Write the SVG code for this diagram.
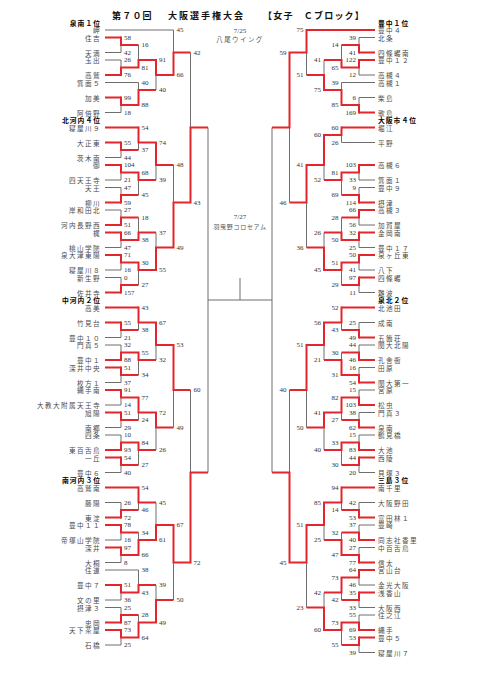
<svg xmlns="http://www.w3.org/2000/svg" width="481" height="680" viewBox="0 0 481 680">
<style>
.g{fill:none;stroke:#6e6e6e;stroke-width:1}
.r{fill:none;stroke:#e3262d;stroke-width:2;stroke-linejoin:miter}
.tl,.tr{font-family:"Noto Sans CJK JP",sans-serif;font-size:6.6px;fill:#4a4a4a;letter-spacing:1.4px;dominant-baseline:central}
.tl{text-anchor:end}
.hl,.hr{font-family:"Noto Sans CJK JP",sans-serif;font-size:6.8px;font-weight:bold;fill:#000;letter-spacing:1px;dominant-baseline:central}
.hl{text-anchor:end}
.nl,.nr{font-family:"Liberation Serif",serif;font-size:7px;fill:#333;dominant-baseline:central}
.nr{text-anchor:end}
.ti{font-family:"Noto Sans CJK JP",sans-serif;font-size:9px;font-weight:bold;fill:#111;dominant-baseline:central}
.dt{font-family:"Liberation Serif",serif;font-size:7px;fill:#444;text-anchor:middle;dominant-baseline:central}
.pl{font-family:"Noto Sans CJK JP",sans-serif;fill:#555;text-anchor:middle;dominant-baseline:central}
</style>
<g id="title">
<text class="ti" x="112" y="15" style="letter-spacing:1.2px">第７０回</text>
<text class="ti" x="168" y="15" style="letter-spacing:2px">大阪選手権大会</text>
<text class="ti" x="263" y="15" style="letter-spacing:1.2px">【女子　Ｃブロック】</text>
<text class="dt" x="240" y="30.5">7/25</text>
<text class="pl" x="240" y="38.5" style="font-size:6.5px;letter-spacing:1.4px">八尾ウイング</text>
<text class="dt" x="240" y="217">7/27</text>
<text class="pl" x="240" y="226" style="font-size:6px;letter-spacing:0.7px">羽曳野コロセアム</text>
</g>
<g id="connectors">
<path class="g" d="M105 30H173.5M105 52.5H121M105 60H121M105 82.5H138.5M105 112.5H121M105 157.5H121M105 180H121M105 187.5H121M105 210H121M105 247.5H121M105 270H121M105 277.5H121M105 337.5H121M105 345H121M105 382.5H121M105 405H121M105 427.5H121M105 435H121M105 472.5H121M105 502.5H121M105 540H121M105 562.5H121M105 570H138.5M105 600H121M105 607.5H121M105 645H121"/>
<path class="g" d="M121 37.5V52.5M121 60V75M121 97.5V112.5M121 142.5V157.5M121 165V180M121 187.5V202.5M121 210V225M121 232.5V247.5M121 255V270M121 277.5V292.5M121 322.5V337.5M121 345V360M121 367.5V382.5M121 390V405M121 412.5V427.5M121 435V450M121 457.5V472.5M121 502.5V517.5M121 525V540M121 547.5V562.5M121 585V600M121 607.5V622.5M121 630V645M138.5 45V67.5M138.5 82.5V105M138.5 127.5V150M138.5 172.5V195M138.5 217.5V240M138.5 262.5V285M138.5 307.5V330M138.5 352.5V375M138.5 397.5V420M138.5 442.5V465M138.5 487.5V510M138.5 532.5V555M138.5 570V592.5M138.5 615V637.5M156 60V90M156 142.5V180M156 232.5V270M156 322.5V360M156 412.5V450M156 502.5V540M156 585V622.5M173.5 30V75M173.5 165V247.5M173.5 345V427.5M173.5 525V600M190.5 52.5V202.5M190.5 390V562.5M208 127.5V472.5"/>
<path class="g" d="M375 37.5H359M375 75H359M375 82.5H341.5M375 97.5H359M375 142.5H341.5M375 180H359M375 187.5H359M375 225H359M375 247.5H359M375 270H359M375 292.5H359M375 322.5H359M375 345H359M375 367.5H359M375 390H359M375 412.5H359M375 435H359M375 472.5H359M375 502.5H359M375 525H359M375 547.5H359M375 585H359M375 607.5H359M375 615H359M375 652.5H359"/>
<path class="g" d="M359 37.5V52.5M359 60V75M359 97.5V112.5M359 165V180M359 187.5V202.5M359 210V225M359 232.5V247.5M359 255V270M359 277.5V292.5M359 322.5V337.5M359 345V360M359 367.5V382.5M359 390V405M359 412.5V427.5M359 435V450M359 457.5V472.5M359 502.5V517.5M359 525V540M359 547.5V562.5M359 570V585M359 592.5V607.5M359 615V630M359 637.5V652.5M341.5 45V67.5M341.5 82.5V105M341.5 127.5V142.5M341.5 172.5V195M341.5 217.5V240M341.5 262.5V285M341.5 307.5V330M341.5 352.5V375M341.5 397.5V420M341.5 442.5V465M341.5 487.5V510M341.5 532.5V555M341.5 577.5V600M341.5 622.5V645M324 60V90M324 135V180M324 232.5V270M324 322.5V360M324 412.5V450M324 502.5V540M324 592.5V630M306.5 30V75M306.5 165V247.5M306.5 345V427.5M306.5 525V607.5M289.5 52.5V202.5M289.5 390V562.5M272 127.5V472.5"/>
<path class="g" d="M208 300H272M240 278V300"/>
<path class="r" d="M105 37.5H121M105 75H121M105 97.5H121M105 127.5H138.5M105 142.5H121M105 165H121M105 202.5H121M105 225H121M105 232.5H121M105 255H121M105 292.5H121M105 307.5H138.5M105 322.5H121M105 360H121M105 367.5H121M105 390H121M105 412.5H121M105 450H121M105 457.5H121M105 487.5H138.5M105 517.5H121M105 525H121M105 547.5H121M105 585H121M105 622.5H121M105 630H121"/>
<path class="r" d="M121 36.5V45H138.5M121 76V67.5H138.5M121 96.5V105H138.5M138.5 68.5V60H156M138.5 106V90H156M156 59V75H173.5M173.5 76V52.5H190.5M121 141.5V150H138.5M121 164V172.5H138.5M121 203.5V195H138.5M121 226V217.5H138.5M121 231.5V240H138.5M121 254V262.5H138.5M121 293.5V285H138.5M138.5 126.5V142.5H156M138.5 171.5V180H156M138.5 241V232.5H156M138.5 261.5V270H156M156 141.5V165H173.5M156 271V247.5H173.5M173.5 248.5V202.5H190.5M190.5 203.5V127.5H208"/>
<path class="r" d="M121 321.5V330H138.5M121 361V352.5H138.5M121 366.5V375H138.5M121 389V397.5H138.5M121 411.5V420H138.5M121 451V442.5H138.5M121 456.5V465H138.5M138.5 306.5V322.5H156M138.5 351.5V360H156M138.5 396.5V412.5H156M138.5 441.5V450H156M156 321.5V345H173.5M156 411.5V427.5H173.5M173.5 344V390H190.5"/>
<path class="r" d="M121 518.5V510H138.5M121 524V532.5H138.5M121 546.5V555H138.5M121 584V592.5H138.5M121 623.5V615H138.5M121 629V637.5H138.5M138.5 486.5V502.5H156M138.5 556V540H156M138.5 593.5V585H156M138.5 638.5V622.5H156M156 541V525H173.5M156 623.5V600H173.5M173.5 524V562.5H190.5M190.5 563.5V472.5H208"/>
<path class="r" d="M375 30H306.5M375 52.5H359M375 60H359M375 112.5H359M375 127.5H341.5M375 165H359M375 202.5H359M375 210H359M375 232.5H359M375 255H359M375 277.5H359M375 307.5H341.5M375 337.5H359M375 360H359M375 382.5H359M375 405H359M375 427.5H359M375 450H359M375 457.5H359M375 487.5H341.5M375 517.5H359M375 540H359M375 562.5H359M375 570H359M375 592.5H359M375 630H359M375 637.5H359"/>
<path class="r" d="M359 53.5V45H341.5M359 59V67.5H341.5M359 113.5V105H341.5M341.5 68.5V60H324M341.5 106V90H324M324 91V75H306.5M306.5 29V52.5H289.5M341.5 126.5V135H324M359 164V172.5H341.5M359 203.5V195H341.5M341.5 171.5V180H324M324 134V165H306.5M359 209V217.5H341.5M359 231.5V240H341.5M341.5 241V232.5H324M359 254V262.5H341.5M359 276.5V285H341.5M341.5 261.5V270H324M324 271V247.5H306.5M306.5 164V202.5H289.5M289.5 51.5V127.5H272"/>
<path class="r" d="M359 338.5V330H341.5M341.5 306.5V322.5H324M359 361V352.5H341.5M359 383.5V375H341.5M341.5 376V360H324M324 321.5V345H306.5M359 406V397.5H341.5M359 428.5V420H341.5M341.5 396.5V412.5H324M359 451V442.5H341.5M359 456.5V465H341.5M341.5 441.5V450H324M324 411.5V427.5H306.5M306.5 344V390H289.5"/>
<path class="r" d="M359 518.5V510H341.5M341.5 486.5V502.5H324M359 541V532.5H341.5M359 563.5V555H341.5M341.5 556V540H324M324 501.5V525H306.5M359 569V577.5H341.5M359 591.5V600H341.5M341.5 576.5V592.5H324M359 631V622.5H341.5M359 636.5V645H341.5M341.5 621.5V630H324M324 631V607.5H306.5M306.5 524V562.5H289.5M289.5 563.5V472.5H272"/>
</g>
<g id="headers">
<text class="hl" x="101" y="22.5">泉南１位</text>
<text class="hl" x="101" y="120">北河内４位</text>
<text class="hl" x="101" y="300">中河内２位</text>
<text class="hl" x="101" y="480">南河内３位</text>
<text class="hr" x="378" y="22.5">豊中１位</text>
<text class="hr" x="378" y="120">大阪市４位</text>
<text class="hr" x="378" y="300">泉北２位</text>
<text class="hr" x="378" y="480">三島３位</text>
</g>
<g id="left-teams">
<g id="L00"><text class="tl" x="101" y="30">岬</text></g>
<g id="L01"><text class="tl" x="101" y="37.5">住吉</text></g>
<g id="L03"><text class="tl" x="101" y="52.5">天満</text></g>
<g id="L04"><text class="tl" x="101" y="60">玉出</text></g>
<g id="L06"><text class="tl" x="101" y="75">高鷲</text></g>
<g id="L07"><text class="tl" x="101" y="82.5">箕面５</text></g>
<g id="L09"><text class="tl" x="101" y="97.5">加美</text></g>
<g id="L11"><text class="tl" x="101" y="112.5">阿倍野</text></g>
<g id="L13"><text class="tl" x="101" y="127.5">寝屋川９</text></g>
<g id="L15"><text class="tl" x="101" y="142.5">大正東</text></g>
<g id="L17"><text class="tl" x="101" y="157.5">茨木南</text></g>
<g id="L18"><text class="tl" x="101" y="165">御</text></g>
<g id="L20"><text class="tl" x="101" y="180">四天王寺</text></g>
<g id="L21"><text class="tl" x="101" y="187.5">天王</text></g>
<g id="L23"><text class="tl" x="101" y="202.5">柳川</text></g>
<g id="L24"><text class="tl" x="101" y="210">岸和田北</text></g>
<g id="L26"><text class="tl" x="101" y="225">河内長野西</text></g>
<g id="L27"><text class="tl" x="101" y="232.5">梶</text></g>
<g id="L29"><text class="tl" x="101" y="247.5">桃山学院</text></g>
<g id="L30"><text class="tl" x="101" y="255">泉大津東陽</text></g>
<g id="L32"><text class="tl" x="101" y="270">寝屋川８</text></g>
<g id="L33"><text class="tl" x="101" y="277.5">新生野</text></g>
<g id="L35"><text class="tl" x="101" y="292.5">佐井寺</text></g>
<g id="L37"><text class="tl" x="101" y="307.5">高美</text></g>
<g id="L39"><text class="tl" x="101" y="322.5">竹見台</text></g>
<g id="L41"><text class="tl" x="101" y="337.5">豊中１０</text></g>
<g id="L42"><text class="tl" x="101" y="345">門真５</text></g>
<g id="L44"><text class="tl" x="101" y="360">豊中１</text></g>
<g id="L45"><text class="tl" x="101" y="367.5">深井中央</text></g>
<g id="L47"><text class="tl" x="101" y="382.5">枚方１</text></g>
<g id="L48"><text class="tl" x="101" y="390">縄手南</text></g>
<g id="L50"><text class="tl" x="101" y="405">大教大附属天王寺</text></g>
<g id="L51"><text class="tl" x="101" y="412.5">旭陽</text></g>
<g id="L53"><text class="tl" x="101" y="427.5">南郷</text></g>
<g id="L54"><text class="tl" x="101" y="435">四条</text></g>
<g id="L56"><text class="tl" x="101" y="450">東百舌鳥</text></g>
<g id="L57"><text class="tl" x="101" y="457.5">一丘</text></g>
<g id="L59"><text class="tl" x="101" y="472.5">豊中６</text></g>
<g id="L61"><text class="tl" x="101" y="487.5">高鷲南</text></g>
<g id="L63"><text class="tl" x="101" y="502.5">藤陽</text></g>
<g id="L65"><text class="tl" x="101" y="517.5">東淀</text></g>
<g id="L66"><text class="tl" x="101" y="525">豊中１１</text></g>
<g id="L68"><text class="tl" x="101" y="540">帝塚山学院</text></g>
<g id="L69"><text class="tl" x="101" y="547.5">深井</text></g>
<g id="L71"><text class="tl" x="101" y="562.5">大桐</text></g>
<g id="L72"><text class="tl" x="101" y="570">住道</text></g>
<g id="L74"><text class="tl" x="101" y="585">豊中７</text></g>
<g id="L76"><text class="tl" x="101" y="600">文の里</text></g>
<g id="L77"><text class="tl" x="101" y="607.5">摂津３</text></g>
<g id="L79"><text class="tl" x="101" y="622.5">忠岡</text></g>
<g id="L80"><text class="tl" x="101" y="630">天下茶屋</text></g>
<g id="L82"><text class="tl" x="101" y="645">石橋</text></g>
</g>
<g id="right-teams">
<g id="R00"><text class="tr" x="378" y="30">豊中４</text></g>
<g id="R01"><text class="tr" x="378" y="37.5">北条</text></g>
<g id="R03"><text class="tr" x="378" y="52.5">四條畷南</text></g>
<g id="R04"><text class="tr" x="378" y="60">豊中１２</text></g>
<g id="R06"><text class="tr" x="378" y="75">高槻４</text></g>
<g id="R07"><text class="tr" x="378" y="82.5">高槻１</text></g>
<g id="R09"><text class="tr" x="378" y="97.5">柴島</text></g>
<g id="R11"><text class="tr" x="378" y="112.5">歌島</text></g>
<g id="R13"><text class="tr" x="378" y="127.5">堀江</text></g>
<g id="R15"><text class="tr" x="378" y="142.5">平野</text></g>
<g id="R18"><text class="tr" x="378" y="165">高槻６</text></g>
<g id="R20"><text class="tr" x="378" y="180">箕面１</text></g>
<g id="R21"><text class="tr" x="378" y="187.5">豊中９</text></g>
<g id="R23"><text class="tr" x="378" y="202.5">摂津</text></g>
<g id="R24"><text class="tr" x="378" y="210">高槻３</text></g>
<g id="R26"><text class="tr" x="378" y="225">加賀屋</text></g>
<g id="R27"><text class="tr" x="378" y="232.5">金岡南</text></g>
<g id="R29"><text class="tr" x="378" y="247.5">豊中１７</text></g>
<g id="R30"><text class="tr" x="378" y="255">泉ヶ丘東</text></g>
<g id="R32"><text class="tr" x="378" y="270">八下</text></g>
<g id="R33"><text class="tr" x="378" y="277.5">四條畷</text></g>
<g id="R35"><text class="tr" x="378" y="292.5">難波</text></g>
<g id="R37"><text class="tr" x="378" y="307.5">北池田</text></g>
<g id="R39"><text class="tr" x="378" y="322.5">成南</text></g>
<g id="R41"><text class="tr" x="378" y="337.5">五箇荘</text></g>
<g id="R42"><text class="tr" x="378" y="345">関大北陽</text></g>
<g id="R44"><text class="tr" x="378" y="360">孔舎衙</text></g>
<g id="R45"><text class="tr" x="378" y="367.5">田原</text></g>
<g id="R47"><text class="tr" x="378" y="382.5">関大第一</text></g>
<g id="R48"><text class="tr" x="378" y="390">宮原</text></g>
<g id="R50"><text class="tr" x="378" y="405">松虫</text></g>
<g id="R51"><text class="tr" x="378" y="412.5">門真３</text></g>
<g id="R53"><text class="tr" x="378" y="427.5">泉南</text></g>
<g id="R54"><text class="tr" x="378" y="435">鶴見橋</text></g>
<g id="R56"><text class="tr" x="378" y="450">大池</text></g>
<g id="R57"><text class="tr" x="378" y="457.5">西陵</text></g>
<g id="R59"><text class="tr" x="378" y="472.5">貝塚３</text></g>
<g id="R61"><text class="tr" x="378" y="487.5">南千里</text></g>
<g id="R63"><text class="tr" x="378" y="502.5">大阪野田</text></g>
<g id="R65"><text class="tr" x="378" y="517.5">富田林１</text></g>
<g id="R66"><text class="tr" x="378" y="525">豊崎</text></g>
<g id="R68"><text class="tr" x="378" y="540">同志社香里</text></g>
<g id="R69"><text class="tr" x="378" y="547.5">中百舌鳥</text></g>
<g id="R71"><text class="tr" x="378" y="562.5">信太</text></g>
<g id="R72"><text class="tr" x="378" y="570">宮山台</text></g>
<g id="R74"><text class="tr" x="378" y="585">金光大阪</text></g>
<g id="R75"><text class="tr" x="378" y="592.5">浅香山</text></g>
<g id="R77"><text class="tr" x="378" y="607.5">大阪西</text></g>
<g id="R78"><text class="tr" x="378" y="615">住之江</text></g>
<g id="R80"><text class="tr" x="378" y="630">縄手</text></g>
<g id="R81"><text class="tr" x="378" y="637.5">豊中５</text></g>
<g id="R83"><text class="tr" x="378" y="652.5">寝屋川７</text></g>
</g>
<g id="scores-left" class="nl">
<text x="124" y="37.5">58</text><text x="124" y="52.5">42</text><text x="124" y="60">26</text><text x="124" y="75">76</text><text x="124" y="97.5">99</text><text x="124" y="112.5">18</text>
<text x="124" y="142.5">55</text><text x="124" y="157.5">44</text><text x="124" y="165">104</text><text x="124" y="180">21</text><text x="124" y="187.5">47</text><text x="124" y="202.5">59</text><text x="124" y="210">27</text><text x="124" y="225">51</text><text x="124" y="232.5">66</text><text x="124" y="247.5">47</text><text x="124" y="255">71</text><text x="124" y="270">16</text><text x="124" y="277.5">0</text><text x="124" y="292.5">157</text>
<text x="124" y="322.5">55</text><text x="124" y="337.5">21</text><text x="124" y="345">32</text><text x="124" y="360">88</text><text x="124" y="367.5">51</text><text x="124" y="382.5">37</text><text x="124" y="390">91</text><text x="124" y="405">14</text><text x="124" y="412.5">51</text><text x="124" y="427.5">29</text><text x="124" y="435">10</text><text x="124" y="450">93</text><text x="124" y="457.5">54</text><text x="124" y="472.5">40</text>
<text x="124" y="502.5">26</text><text x="124" y="517.5">72</text><text x="124" y="525">78</text><text x="124" y="540">16</text><text x="124" y="547.5">97</text><text x="124" y="562.5">8</text><text x="124" y="585">51</text><text x="124" y="600">36</text><text x="124" y="607.5">25</text><text x="124" y="622.5">87</text><text x="124" y="630">73</text><text x="124" y="645">25</text>
<text x="141.5" y="45">16</text><text x="141.5" y="67.5">81</text><text x="141.5" y="82.5">40</text><text x="141.5" y="105">88</text><text x="141.5" y="127.5">54</text><text x="141.5" y="150">37</text><text x="141.5" y="172.5">68</text><text x="141.5" y="195">45</text><text x="141.5" y="217.5">18</text><text x="141.5" y="240">38</text><text x="141.5" y="262.5">30</text><text x="141.5" y="285">27</text><text x="141.5" y="307.5">43</text><text x="141.5" y="330">38</text><text x="141.5" y="352.5">55</text><text x="141.5" y="375">34</text><text x="141.5" y="397.5">77</text><text x="141.5" y="420">24</text><text x="141.5" y="442.5">84</text><text x="141.5" y="465">27</text><text x="141.5" y="487.5">54</text><text x="141.5" y="510">46</text><text x="141.5" y="532.5">34</text><text x="141.5" y="555">66</text><text x="141.5" y="570">38</text><text x="141.5" y="592.5">43</text><text x="141.5" y="615">28</text><text x="141.5" y="637.5">64</text>
<text x="159" y="60">91</text><text x="159" y="90">40</text><text x="159" y="142.5">74</text><text x="159" y="180">39</text><text x="159" y="232.5">37</text><text x="159" y="270">55</text><text x="159" y="322.5">67</text><text x="159" y="360">32</text><text x="159" y="412.5">72</text><text x="159" y="450">26</text><text x="159" y="502.5">45</text><text x="159" y="540">61</text><text x="159" y="585">39</text><text x="159" y="622.5">49</text>
<text x="176.5" y="30">45</text><text x="176.5" y="75">66</text><text x="176.5" y="165">48</text><text x="176.5" y="247.5">49</text><text x="176.5" y="345">53</text><text x="176.5" y="427.5">49</text><text x="176.5" y="525">67</text><text x="176.5" y="600">50</text>
<text x="193.5" y="52.5">42</text><text x="193.5" y="202.5">43</text><text x="193.5" y="390">60</text><text x="193.5" y="562.5">72</text>
</g>
<g id="scores-right" class="nr">
<text x="356" y="37.5">39</text><text x="356" y="52.5">41</text><text x="356" y="60">122</text><text x="356" y="75">12</text><text x="356" y="97.5">6</text><text x="356" y="112.5">169</text>
<text x="356" y="165">103</text><text x="356" y="180">33</text><text x="356" y="187.5">9</text><text x="356" y="202.5">114</text><text x="356" y="210">66</text><text x="356" y="225">56</text><text x="356" y="232.5">32</text><text x="356" y="247.5">25</text><text x="356" y="255">50</text><text x="356" y="270">41</text><text x="356" y="277.5">97</text><text x="356" y="292.5">11</text>
<text x="356" y="322.5">25</text><text x="356" y="337.5">49</text><text x="356" y="345">44</text><text x="356" y="360">46</text><text x="356" y="367.5">16</text><text x="356" y="382.5">54</text><text x="356" y="390">15</text><text x="356" y="405">103</text><text x="356" y="412.5">38</text><text x="356" y="427.5">62</text><text x="356" y="435">15</text><text x="356" y="450">83</text><text x="356" y="457.5">44</text><text x="356" y="472.5">20</text>
<text x="356" y="502.5">42</text><text x="356" y="517.5">53</text><text x="356" y="525">37</text><text x="356" y="540">40</text><text x="356" y="547.5">27</text><text x="356" y="562.5">77</text><text x="356" y="570">64</text><text x="356" y="585">46</text><text x="356" y="592.5">35</text><text x="356" y="607.5">33</text><text x="356" y="615">55</text><text x="356" y="630">69</text><text x="356" y="637.5">53</text><text x="356" y="652.5">39</text>
<text x="338.5" y="45">14</text><text x="338.5" y="67.5">65</text><text x="338.5" y="82.5">39</text><text x="338.5" y="105">85</text><text x="338.5" y="127.5">60</text><text x="338.5" y="142.5">26</text><text x="338.5" y="172.5">81</text><text x="338.5" y="195">69</text><text x="338.5" y="217.5">28</text><text x="338.5" y="240">50</text><text x="338.5" y="262.5">51</text><text x="338.5" y="285">29</text><text x="338.5" y="307.5">52</text><text x="338.5" y="330">43</text><text x="338.5" y="352.5">30</text><text x="338.5" y="375">31</text><text x="338.5" y="397.5">82</text><text x="338.5" y="420">27</text><text x="338.5" y="442.5">33</text><text x="338.5" y="465">30</text><text x="338.5" y="487.5">94</text><text x="338.5" y="510">14</text><text x="338.5" y="532.5">32</text><text x="338.5" y="555">47</text><text x="338.5" y="577.5">73</text><text x="338.5" y="600">42</text><text x="338.5" y="622.5">73</text><text x="338.5" y="645">55</text>
<text x="321" y="60">41</text><text x="321" y="90">75</text><text x="321" y="135">60</text><text x="321" y="180">52</text><text x="321" y="232.5">26</text><text x="321" y="270">45</text><text x="321" y="322.5">56</text><text x="321" y="360">21</text><text x="321" y="412.5">41</text><text x="321" y="450">40</text><text x="321" y="502.5">85</text><text x="321" y="540">25</text><text x="321" y="592.5">42</text><text x="321" y="630">60</text>
<text x="303.5" y="30">75</text><text x="303.5" y="75">51</text><text x="303.5" y="165">41</text><text x="303.5" y="247.5">36</text><text x="303.5" y="345">51</text><text x="303.5" y="427.5">50</text><text x="303.5" y="525">51</text><text x="303.5" y="607.5">23</text>
<text x="286.5" y="52.5">59</text><text x="286.5" y="202.5">46</text><text x="286.5" y="390">40</text><text x="286.5" y="562.5">45</text>
</g>
</svg>
